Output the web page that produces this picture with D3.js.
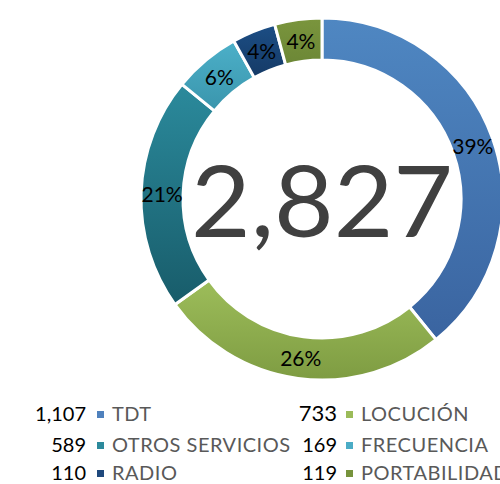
<!DOCTYPE html>
<html>
<head>
<meta charset="utf-8">
<script src="https://cdn.jsdelivr.net/npm/d3@7.9.0/dist/d3.min.js"></script>
<style>
  html, body { margin: 0; padding: 0; background: #fff; overflow: hidden; }
  svg { display: block; font-family: 'Lato', 'DejaVu Sans', sans-serif; }
</style>
</head>
<body>
<svg id="chart" width="500" height="484"></svg>
<script>
// data
const categories = ['TDT', 'LOCUCIÓN', 'OTROS SERVICIOS', 'FRECUENCIA', 'RADIO', 'PORTABILIDAD'];
const values = [1107, 733, 589, 169, 110, 119];
const topColors = ['#4f87c2', '#9dbd5a', '#2b8a9c', '#4cb0c9', '#1c4e85', '#7a953d'];
const bottomColors = ['#3a64a0', '#7e9c42', '#185c6a', '#3a95ac', '#153a66', '#6c8736'];
const legendColors = ['#4f81bd', '#9bbb59', '#2c8a9c', '#4bacc6', '#1f497d', '#77933c'];

const width = 500;
const height = 484;
const cx = 322;
const cy = 199;
const outerR = 181;
const innerR = 139;

const svg = d3.select('#chart');
const total = d3.sum(values);

// GRADIENTS

const defs = svg.append('defs');

categories.forEach((c, i) => {
  const g = defs.append('linearGradient')
    .attr('id', 'grad' + i)
    .attr('x1', 0).attr('y1', 0)
    .attr('x2', 0).attr('y2', 1);
  g.append('stop').attr('offset', '0%').attr('stop-color', topColors[i]);
  g.append('stop').attr('offset', '100%').attr('stop-color', bottomColors[i]);
});

// DONUT

const pie = d3.pie().sort(null).value((d) => d);
const arcs = pie(values);

const arc = d3.arc()
  .innerRadius(innerR)
  .outerRadius(outerR);

const ring = svg.append('g')
  .attr('transform', `translate(${cx},${cy})`);

ring.selectAll('path')
  .data(arcs)
  .join('path')
  .attr('d', arc)
  .attr('fill', (d, i) => `url(#grad${i})`)
  .attr('stroke', '#fff')
  .attr('stroke-width', 3);

const labelArc = d3.arc()
  .innerRadius((innerR + outerR) / 2)
  .outerRadius((innerR + outerR) / 2);

ring.selectAll('text.pct')
  .data(arcs)
  .join('text')
  .attr('class', 'pct')
  .attr('x', (d) => labelArc.centroid(d)[0])
  .attr('y', (d) => labelArc.centroid(d)[1])
  .attr('text-anchor', 'middle')
  .attr('dominant-baseline', 'central')
  .attr('font-size', 21)
  .attr('fill', '#000')
  .text((d) => d3.format('.0%')(d.data / total));

// TOTAL

svg.append('text')
  .attr('x', 322)
  .attr('y', 237)
  .attr('text-anchor', 'middle')
  .attr('font-size', 98)
  .attr('fill', '#404040')
  .attr('textLength', 262)
  .attr('lengthAdjust', 'spacingAndGlyphs')
  .text(d3.format(',')(total));

// LEGEND

const cols = [
  { valueX: 86, squareX: 97, labelX: 112 },
  { valueX: 337, squareX: 346, labelX: 361 },
];
const rowY = [421, 452, 480];

const legend = svg.append('g').attr('class', 'legend');

categories.forEach((c, i) => {
  const col = cols[i % 2];
  const y = rowY[Math.floor(i / 2)];
  const item = legend.append('g');

  item.append('text')
    .attr('x', col.valueX)
    .attr('y', y)
    .attr('text-anchor', 'end')
    .attr('font-size', i === 1 ? 22 : 20)
    .attr('fill', '#000')
    .text(d3.format(',')(values[i]));

  item.append('rect')
    .attr('x', col.squareX)
    .attr('y', y - 10)
    .attr('width', 7)
    .attr('height', 7)
    .attr('fill', legendColors[i]);

  item.append('text')
    .attr('x', col.labelX)
    .attr('y', y)
    .attr('font-size', 20)
    .attr('letter-spacing', 0.5)
    .attr('fill', '#595959')
    .text(c);
});
</script>
</body>
</html>
